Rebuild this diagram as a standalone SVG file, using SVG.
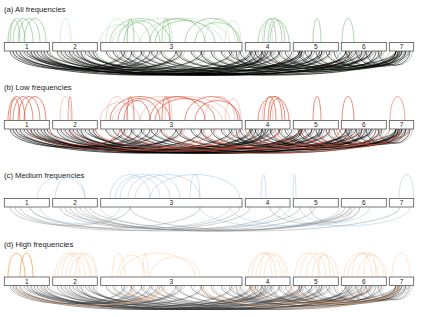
<svg xmlns="http://www.w3.org/2000/svg" xmlns:xlink="http://www.w3.org/1999/xlink" width="423" height="317" viewBox="0 0 423 317">
<style>
.title{font-family:"Liberation Sans",Arial,sans-serif;font-size:7.7px;fill:#222}
.lab{font-family:"Liberation Sans",Arial,sans-serif;font-size:6.5px;fill:#222;text-anchor:middle}
.box{fill:#fff;stroke:#555;stroke-width:0.8}
.arcs path{fill:none}
</style>
<defs>
<g id="U1" class="arcs">
<path d="M8 0a8.5 24 0 0 1 17 0M13 0a10 24 0 0 1 20 0M18 0a11 24 0 0 1 22 0M24 0a11 24 0 0 1 22 0M10 0a5 22 0 0 1 10 0M110 0a30 24 0 0 1 60 0M118 0a21 22 0 0 1 42 0M124 0a13 20 0 0 1 26 0M127 0a3.5 24 0 0 1 7 0M150 0a27.5 24 0 0 1 55 0M155 0a30 22 0 0 1 60 0M162 0a4 24 0 0 1 8 0M185 0a26.5 24 0 0 1 53 0M195 0a22.5 20 0 0 1 45 0M258 0a15.5 24 0 0 1 31 0M264 0a6 24 0 0 1 12 0M268 0a7 24 0 0 1 14 0M270 0a7.5 22 0 0 1 15 0M313 0a4 24 0 0 1 8 0M342 0a6 24 0 0 1 12 0"/>
<path stroke-opacity="0.35" d="M60 0a5.5 24 0 0 1 11 0M106 0a11 24 0 0 1 22 0M165 0a3.5 23 0 0 1 7 0M205 0a15 24 0 0 1 30 0M140 0a45 24 0 0 1 90 0M262 0a5.5 20 0 0 1 11 0M112 0a55 24 0 0 1 110 0M100 0a20 18 0 0 1 40 0M225 0a8 22 0 0 1 16 0"/>
</g>
<g id="L1" class="arcs">
<path d="M10 0a57.5 18.2 0 0 0 115 0M13 0a124.5 24 0 0 0 249 0M16 0a142 24 0 0 0 284 0M20 0a81 20.3 0 0 0 162 0M24 0a164 24 0 0 0 328 0M27 0a184.5 24 0 0 0 369 0M31 0a55.5 18 0 0 0 111 0M34 0a99 21.9 0 0 0 198 0M37 0a137.5 24 0 0 0 275 0M41 0a115.5 23.4 0 0 0 231 0M44 0a57 18.1 0 0 0 114 0M47 0a162.5 24 0 0 0 325 0M57 0a46.5 17.2 0 0 0 93 0M61 0a109.5 22.9 0 0 0 219 0M65 0a128.5 24 0 0 0 257 0M69 0a66.5 19 0 0 0 133 0M73 0a144.5 24 0 0 0 289 0M77 0a86.5 20.8 0 0 0 173 0M81 0a25.5 15.3 0 0 0 51 0M85 0a158.5 24 0 0 0 317 0M89 0a105.5 22.5 0 0 0 211 0M93 0a41.5 16.7 0 0 0 83 0M106 0a81 20.3 0 0 0 162 0M113 0a108.5 22.8 0 0 0 217 0M121 0a65.5 18.9 0 0 0 131 0M131 0a112.5 23.1 0 0 0 225 0M141 0a80.5 20.2 0 0 0 161 0M151 0a124.5 24 0 0 0 249 0M161 0a52.5 17.7 0 0 0 105 0M176 0a72 19.5 0 0 0 144 0M191 0a90 21.1 0 0 0 180 0M201 0a27.5 15.5 0 0 0 55 0M211 0a40.5 16.6 0 0 0 81 0M221 0a62.5 18.6 0 0 0 125 0M229 0a83.5 20.5 0 0 0 167 0M236 0a13 14.2 0 0 0 26 0M240 0a36 16.2 0 0 0 72 0M250 0a26 15.3 0 0 0 52 0M255 0a45.5 17.1 0 0 0 91 0M262 0a60 18.4 0 0 0 120 0M270 0a26 15.3 0 0 0 52 0M278 0a64 18.8 0 0 0 128 0M285 0a40.5 16.6 0 0 0 81 0M298 0a26 15.3 0 0 0 52 0M305 0a45.5 17.1 0 0 0 91 0M316 0a23 15.1 0 0 0 46 0M326 0a38 16.4 0 0 0 76 0M334 0a21 14.9 0 0 0 42 0M346 0a25 15.3 0 0 0 50 0M356 0a25 15.3 0 0 0 50 0M366 0a16 14.4 0 0 0 32 0M378 0a16 14.4 0 0 0 32 0"/>
</g>
<g id="L2" class="arcs">
<path d="M30 0a92.5 21.3 0 0 0 185 0M50 0a35 16.2 0 0 0 70 0M95 0a72.5 19.5 0 0 0 145 0M160 0a85 20.7 0 0 0 170 0M200 0a80 20.2 0 0 0 160 0M245 0a72.5 19.5 0 0 0 145 0M275 0a32.5 15.9 0 0 0 65 0M120 0a145 24 0 0 0 290 0M300 0a40 16.6 0 0 0 80 0M70 0a105 22.5 0 0 0 210 0M180 0a60 18.4 0 0 0 120 0M340 0a30 15.7 0 0 0 60 0"/>
</g>
</defs>

<!-- (a) -->
<text class="title" x="4" y="11.5">(a) All frequencies</text>
<g id="a-connectors">
<use xlink:href="#U1" href="#U1" y="42.5" stroke="#7dbb7d" stroke-width="0.8" stroke-opacity="0.75"/>
<use xlink:href="#L2" href="#L2" y="51" stroke="#7dbb7d" stroke-width="0.8" stroke-opacity="0.6"/>
<use xlink:href="#L1" href="#L1" y="51" stroke="#000" stroke-width="0.75" stroke-opacity="0.75"/>
<use xlink:href="#L1" href="#L1" x="2.5" y="51" stroke="#000" stroke-width="0.7" stroke-opacity="0.3"/>
</g>
<g id="a-nodes" transform="translate(0,42.5)">
<g id="a-chr1"><rect class="box" x="4.3" y="0" width="45" height="8.5"/><text class="lab" x="26.8" y="6.6">1</text></g>
<g id="a-chr2"><rect class="box" x="52.7" y="0" width="44.6" height="8.5"/><text class="lab" x="75" y="6.6">2</text></g>
<g id="a-chr3"><rect class="box" x="100.7" y="0" width="141.3" height="8.5"/><text class="lab" x="171.3" y="6.6">3</text></g>
<g id="a-chr4"><rect class="box" x="245.3" y="0" width="44.7" height="8.5"/><text class="lab" x="267.6" y="6.6">4</text></g>
<g id="a-chr5"><rect class="box" x="293.3" y="0" width="45" height="8.5"/><text class="lab" x="315.8" y="6.6">5</text></g>
<g id="a-chr6"><rect class="box" x="341.3" y="0" width="45" height="8.5"/><text class="lab" x="363.8" y="6.6">6</text></g>
<g id="a-chr7"><rect class="box" x="389.3" y="0" width="24.4" height="8.5"/><text class="lab" x="401.5" y="6.6">7</text></g>
</g>

<!-- (b) -->
<text class="title" x="4" y="89.5">(b) Low frequencies</text>
<g id="b-connectors">
<use xlink:href="#U1" href="#U1" y="120.5" stroke="#dd4a30" stroke-width="0.8" stroke-opacity="0.8"/>
<path d="M390 120.5a7.5 24 0 0 1 15 0M68 120.5a2 24 0 0 1 4 0" fill="none" stroke="#dd4a30" stroke-width="0.8" stroke-opacity="0.6"/>
<use xlink:href="#L1" href="#L1" y="129" stroke="#000" stroke-width="0.75" stroke-opacity="0.75"/>
<use xlink:href="#L1" href="#L1" x="2.5" y="129" stroke="#000" stroke-width="0.7" stroke-opacity="0.3"/>
<use xlink:href="#L2" href="#L2" y="129" stroke="#dd4a30" stroke-width="0.8" stroke-opacity="0.75"/>
</g>
<g id="b-nodes" transform="translate(0,120.5)">
<g id="b-chr1"><rect class="box" x="4.3" y="0" width="45" height="8.5"/><text class="lab" x="26.8" y="6.6">1</text></g>
<g id="b-chr2"><rect class="box" x="52.7" y="0" width="44.6" height="8.5"/><text class="lab" x="75" y="6.6">2</text></g>
<g id="b-chr3"><rect class="box" x="100.7" y="0" width="141.3" height="8.5"/><text class="lab" x="171.3" y="6.6">3</text></g>
<g id="b-chr4"><rect class="box" x="245.3" y="0" width="44.7" height="8.5"/><text class="lab" x="267.6" y="6.6">4</text></g>
<g id="b-chr5"><rect class="box" x="293.3" y="0" width="45" height="8.5"/><text class="lab" x="315.8" y="6.6">5</text></g>
<g id="b-chr6"><rect class="box" x="341.3" y="0" width="45" height="8.5"/><text class="lab" x="363.8" y="6.6">6</text></g>
<g id="b-chr7"><rect class="box" x="389.3" y="0" width="24.4" height="8.5"/><text class="lab" x="401.5" y="6.6">7</text></g>
</g>

<!-- (c) -->
<text class="title" x="4" y="178">(c) Medium frequencies</text>
<g id="c-connectors" fill="none">
<g transform="translate(0,198.5)" stroke="#9fc0de" stroke-width="0.8" stroke-opacity="0.6">
<path d="M55 0a15 22 0 0 1 30 0M37 0a24 22 0 0 1 48 0M110 0a20 24 0 0 1 40 0M115 0a27.5 24 0 0 1 55 0M120 0a20 22 0 0 1 40 0M128 0a26 24 0 0 1 52 0M135 0a32.5 24 0 0 1 65 0M190 0a5 24 0 0 1 10 0M150 0a45 24 0 0 1 90 0M261 0a2.5 24 0 0 1 5 0M293 0a1.5 24 0 0 1 3 0M399 0a7.5 24 0 0 1 15 0"/>
</g>
<g transform="translate(0,207)">
<path stroke="#9fc0de" stroke-width="0.8" stroke-opacity="0.55" d="M30 0a100 22 0 0 0 200 0M40 0a40 16.6 0 0 0 80 0M200 0a70 19.3 0 0 0 140 0M230 0a70 19.3 0 0 0 140 0M280 0a65 18.9 0 0 0 130 0M300 0a30 15.7 0 0 0 60 0M100 0a95 21.6 0 0 0 190 0"/>
<path stroke="#888" stroke-width="0.75" stroke-opacity="0.55" d="M10 0a60 18.4 0 0 0 120 0M15 0a117.5 23.6 0 0 0 235 0M20 0a90 21.1 0 0 0 180 0M30 0a135 24 0 0 0 270 0M60 0a90 21.1 0 0 0 180 0M65 0a142.5 24 0 0 0 285 0M70 0a105 22.5 0 0 0 210 0M75 0a140 24 0 0 0 280 0M80 0a132.5 24 0 0 0 265 0M85 0a115 23.4 0 0 0 230 0M270 0a45 17.1 0 0 0 90 0M310 0a21 14.9 0 0 0 42 0M90 0a155 24 0 0 0 310 0M130 0a110 22.9 0 0 0 220 0"/>
</g>
</g>
<g id="c-nodes" transform="translate(0,198.5)">
<g id="c-chr1"><rect class="box" x="4.3" y="0" width="45" height="8.5"/><text class="lab" x="26.8" y="6.6">1</text></g>
<g id="c-chr2"><rect class="box" x="52.7" y="0" width="44.6" height="8.5"/><text class="lab" x="75" y="6.6">2</text></g>
<g id="c-chr3"><rect class="box" x="100.7" y="0" width="141.3" height="8.5"/><text class="lab" x="171.3" y="6.6">3</text></g>
<g id="c-chr4"><rect class="box" x="245.3" y="0" width="44.7" height="8.5"/><text class="lab" x="267.6" y="6.6">4</text></g>
<g id="c-chr5"><rect class="box" x="293.3" y="0" width="45" height="8.5"/><text class="lab" x="315.8" y="6.6">5</text></g>
<g id="c-chr6"><rect class="box" x="341.3" y="0" width="45" height="8.5"/><text class="lab" x="363.8" y="6.6">6</text></g>
<g id="c-chr7"><rect class="box" x="389.3" y="0" width="24.4" height="8.5"/><text class="lab" x="401.5" y="6.6">7</text></g>
</g>

<!-- (d) -->
<text class="title" x="4" y="246.5">(d) High frequencies</text>
<g id="d-connectors" fill="none">
<g transform="translate(0,277)" stroke="#f39a50" stroke-width="0.8">
<path d="M8 0a8.5 24 0 0 1 17 0M20 0a6.5 24 0 0 1 13 0" stroke-opacity="0.9"/>
<path stroke-opacity="0.3" d="M55 0a15 24 0 0 1 30 0M58 0a17 24 0 0 1 34 0M62 0a9 22 0 0 1 18 0M66 0a15 24 0 0 1 30 0M70 0a10 20 0 0 1 20 0M75 0a11 24 0 0 1 22 0M112 0a6.5 24 0 0 1 13 0M118 0a13.5 22 0 0 1 27 0M120 0a37.5 24 0 0 1 75 0M143 0a2.5 24 0 0 1 5 0M150 0a25 20 0 0 1 50 0M248 0a17 24 0 0 1 34 0M252 0a12 24 0 0 1 24 0M256 0a16 24 0 0 1 32 0M260 0a6 24 0 0 1 12 0M264 0a10.5 22 0 0 1 21 0M295 0a12.5 24 0 0 1 25 0M300 0a13 24 0 0 1 26 0M306 0a14 24 0 0 1 28 0M312 0a13 22 0 0 1 26 0M318 0a6 24 0 0 1 12 0M344 0a17 24 0 0 1 34 0M348 0a18 24 0 0 1 36 0M352 0a10 24 0 0 1 20 0M358 0a14 22 0 0 1 28 0M364 0a6 24 0 0 1 12 0M392 0a9 24 0 0 1 18 0"/>
</g>
<use xlink:href="#L1" href="#L1" y="285.5" stroke="#333" stroke-width="0.75" stroke-opacity="0.5"/>
<use xlink:href="#L1" href="#L1" x="2.5" y="285.5" stroke="#333" stroke-width="0.7" stroke-opacity="0.25"/>
<path transform="translate(0,285.5)" stroke="#f39a50" stroke-width="0.8" stroke-opacity="0.7" d="M15 0a75 19.8 0 0 0 150 0M130 0a15 14.4 0 0 0 30 0M200 0a100 22 0 0 0 200 0M250 0a60 18.4 0 0 0 120 0M290 0a55 18 0 0 0 110 0"/>
</g>
<g id="d-nodes" transform="translate(0,277)">
<g id="d-chr1"><rect class="box" x="4.3" y="0" width="45" height="8.5"/><text class="lab" x="26.8" y="6.6">1</text></g>
<g id="d-chr2"><rect class="box" x="52.7" y="0" width="44.6" height="8.5"/><text class="lab" x="75" y="6.6">2</text></g>
<g id="d-chr3"><rect class="box" x="100.7" y="0" width="141.3" height="8.5"/><text class="lab" x="171.3" y="6.6">3</text></g>
<g id="d-chr4"><rect class="box" x="245.3" y="0" width="44.7" height="8.5"/><text class="lab" x="267.6" y="6.6">4</text></g>
<g id="d-chr5"><rect class="box" x="293.3" y="0" width="45" height="8.5"/><text class="lab" x="315.8" y="6.6">5</text></g>
<g id="d-chr6"><rect class="box" x="341.3" y="0" width="45" height="8.5"/><text class="lab" x="363.8" y="6.6">6</text></g>
<g id="d-chr7"><rect class="box" x="389.3" y="0" width="24.4" height="8.5"/><text class="lab" x="401.5" y="6.6">7</text></g>
</g>
</svg>
